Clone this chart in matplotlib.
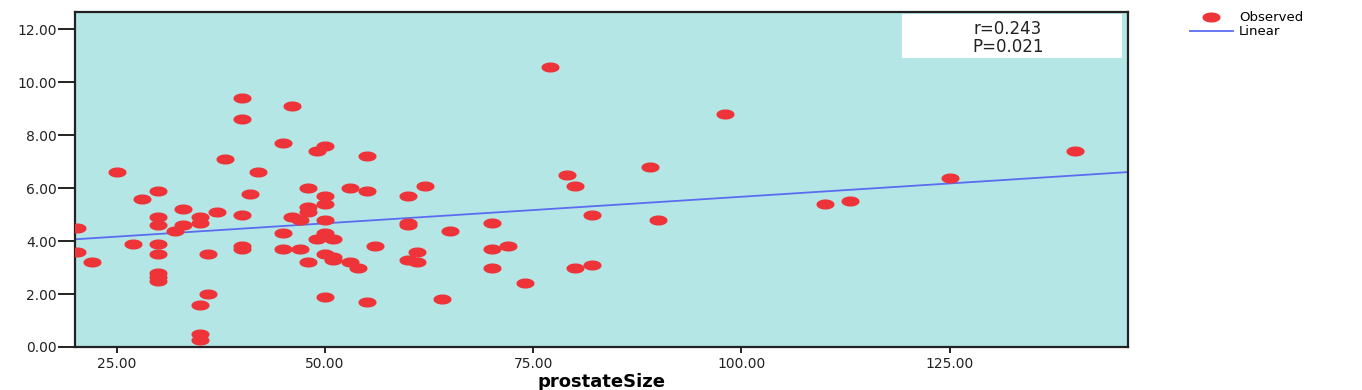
import numpy as np
import matplotlib
matplotlib.use("Agg")
import matplotlib.pyplot as plt
from matplotlib.path import Path
from matplotlib.lines import Line2D
from matplotlib.patches import Rectangle

prostate_size = [
    20.3, 20.3, 22, 25, 27, 28, 30, 30, 30, 30, 30, 30, 30, 30,
    32, 33, 33, 35, 35, 35, 35, 35, 36, 36, 37, 38, 40, 40, 40, 40, 40,
    41, 42, 45, 45, 45, 46, 46, 47, 47, 48, 48, 48, 48, 49, 50, 50, 50, 50,
    49, 50, 51, 50, 51, 51, 50, 53, 53, 54, 55, 55, 55, 56,
    60, 60, 60, 60, 61, 61, 62, 64, 65, 70, 70, 70, 72, 74, 77,
    79, 80, 80, 82, 82, 89, 90, 98, 110, 113, 125, 140,
]
value = [
    4.5, 3.6, 3.2, 6.6, 3.9, 5.6, 5.9, 4.9, 4.6, 3.9, 3.5, 2.8, 2.65, 2.5,
    4.4, 5.2, 4.6, 4.9, 4.7, 1.6, 0.5, 0.25, 3.5, 2.0, 5.1, 7.1, 9.4, 8.6, 5.0, 3.8, 3.7,
    5.8, 6.6, 7.7, 4.3, 3.7, 9.1, 4.9, 4.8, 3.7, 6.0, 5.3, 5.1, 3.2, 7.4, 7.6, 5.7, 5.4, 4.8,
    4.1, 4.3, 4.1, 3.5, 3.4, 3.3, 1.9, 6.0, 3.2, 3.0, 7.2, 5.9, 1.7, 3.8,
    5.7, 4.7, 4.6, 3.3, 3.6, 3.2, 6.1, 1.8, 4.4, 4.7, 3.7, 3.0, 3.8, 2.4, 10.6,
    6.5, 6.1, 3.0, 5.0, 3.1, 6.8, 4.8, 8.8, 5.4, 5.5, 6.4, 7.4,
]

# linear fit line as drawn in the picture
fit_intercept = 3.668
fit_slope = 0.0201

x_ticks = [25, 50, 75, 100, 125]
y_ticks = [0, 2, 4, 6, 8, 10, 12]
stats_text = ["r=0.243", "P=0.021"]

BG = "#b4e6e6"
RED = "#ee3339"
BLUE = "#5c6cf0"

# flattened ellipse marker (the dots are wider than tall)
t = np.linspace(0, 2 * np.pi, 60)
ellipse = Path(np.column_stack([np.cos(t), 0.52 * np.sin(t)]), closed=True)

fig = plt.figure(figsize=(13.62, 3.9), dpi=100)
ax = fig.add_axes([75 / 1362, 43 / 390, 1053 / 1362, 335 / 390])
ax.set_facecolor(BG)

xmin, xmax = 20.0, 146.4
ax.set_xlim(xmin, xmax)
ax.set_ylim(0, 12.66)

ax.plot(prostate_size, value, linestyle="none", marker=ellipse, ms=12,
        color=RED, mec=RED, zorder=3)
xs = np.array([xmin, xmax])
ax.plot(xs, fit_intercept + fit_slope * xs, color=BLUE, lw=1.3, zorder=2)

ax.set_xticks(x_ticks)
ax.set_xticklabels([f"{v:.2f}" for v in x_ticks])
ax.set_yticks(y_ticks)
ax.set_yticklabels([f"{v:.2f}" for v in y_ticks])
ax.tick_params(axis="y", length=12, width=1.4, pad=1, labelsize=10, colors="#222222")
ax.tick_params(axis="x", length=4.5, width=1.4, pad=3, labelsize=10, colors="#222222")
for s in ax.spines.values():
    s.set_linewidth(1.6)
    s.set_color("#222222")

ax.set_xlabel("prostateSize", fontsize=13, fontweight="bold", labelpad=1)

# stats box in the upper right corner
ax.add_patch(Rectangle((0.785, 0.862), 0.209, 0.131, transform=ax.transAxes,
                       facecolor="white", edgecolor="none", zorder=4))
ax.text(0.886, 0.948, stats_text[0], transform=ax.transAxes, ha="center",
        va="center", fontsize=12, zorder=5, color="#222222")
ax.text(0.886, 0.897, stats_text[1], transform=ax.transAxes, ha="center",
        va="center", fontsize=12, zorder=5, color="#222222")

handles = [
    Line2D([], [], linestyle="none", marker=ellipse, ms=12, color=RED, mec=RED),
    Line2D([], [], color=BLUE, lw=1.3),
]
fig.legend(handles, ["Observed", "Linear"], loc="upper left",
           bbox_to_anchor=(1185 / 1362, 0.985), frameon=False, fontsize=9.5,
           handlelength=3.2, handletextpad=0.5, labelspacing=0.1, borderaxespad=0)

fig.savefig("out.png", dpi=100)
